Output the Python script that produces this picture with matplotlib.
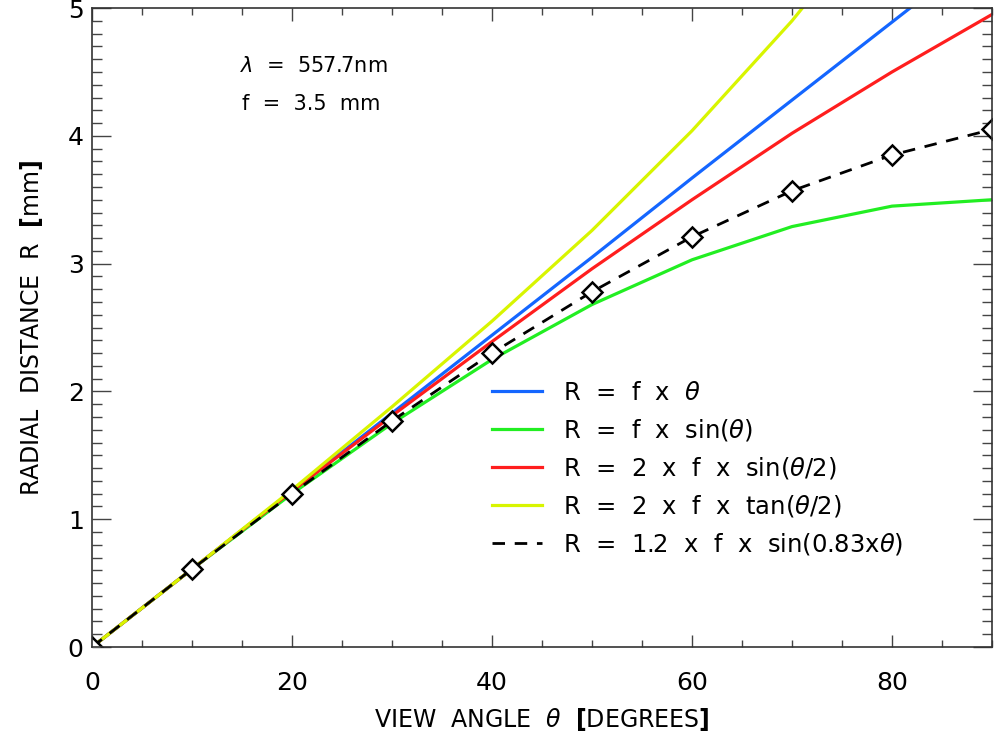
import matplotlib
matplotlib.use("Agg")
import matplotlib.pyplot as plt
from matplotlib.ticker import MultipleLocator

plt.rcParams['font.family'] = ['DejaVu Sans']
plt.rcParams['mathtext.fontset'] = 'dejavusans'

theta = [0, 10, 20, 30, 40, 50, 60, 70, 80, 90]
r_lin = [0, 0.61, 1.22, 1.83, 2.44, 3.05, 3.67, 4.28, 4.89, 5.50]
r_sin = [0, 0.61, 1.20, 1.75, 2.25, 2.68, 3.03, 3.29, 3.45, 3.50]
r_2sin = [0, 0.61, 1.22, 1.81, 2.39, 2.96, 3.50, 4.02, 4.50, 4.95]
r_2tan = [0, 0.61, 1.23, 1.88, 2.55, 3.26, 4.04, 4.90, 5.87, 7.00]
r_fit = [0, 0.61, 1.20, 1.77, 2.30, 2.78, 3.21, 3.57, 3.85, 4.05]

labels = [r"R  =  f  x  $\theta$",
          r"R  =  f  x  sin($\theta$)",
          r"R  =  2  x  f  x  sin($\theta$/2)",
          r"R  =  2  x  f  x  tan($\theta$/2)",
          r"R  =  1.2  x  f  x  sin(0.83x$\theta$)"]
colors = ['#1466ff', '#22ee22', '#ff1e1e', '#d8f500', 'black']

fig = plt.figure(figsize=(9.94, 7.32), dpi=100)
ax = fig.add_axes([0.0926, 0.1161, 0.9054, 0.8729])

lw = 2.3
ax.plot(theta, r_lin, color=colors[0], lw=lw, label=labels[0])
ax.plot(theta, r_sin, color=colors[1], lw=lw, label=labels[1])
ax.plot(theta, r_2sin, color=colors[2], lw=lw, label=labels[2])
ax.plot(theta, r_2tan, color=colors[3], lw=lw, label=labels[3])
ax.plot(theta, r_fit, color='black', lw=2, ls=(0, (4.5, 3.5)), label=labels[4])
ax.plot(theta, r_fit, ls='none', marker='D', ms=10, mfc='white', mec='black', mew=1.8,
        clip_on=True)

ax.set_xlim(0, 90)
ax.set_ylim(0, 5)
ax.xaxis.set_major_locator(MultipleLocator(20))
ax.xaxis.set_minor_locator(MultipleLocator(5))
ax.yaxis.set_major_locator(MultipleLocator(1))
ax.yaxis.set_minor_locator(MultipleLocator(0.1))
ax.tick_params(axis='both', which='both', direction='in', top=True, right=True,
               width=1, color='#444444')
ax.tick_params(axis='x', which='major', length=9, labelsize=18, pad=17)
ax.tick_params(axis='x', which='minor', length=5)
ax.tick_params(axis='y', which='major', length=14, labelsize=18, pad=6)
ax.tick_params(axis='y', which='minor', length=7)
for s in ax.spines.values():
    s.set_linewidth(1.2)
    s.set_color('#333333')

ax.set_xlabel(r"VIEW  ANGLE  $\theta$  $\mathbf{[}$DEGREES$\mathbf{]}$", fontsize=17, labelpad=8)
ax.set_ylabel(r"RADIAL  DISTANCE  R  $\mathbf{[}$mm$\mathbf{]}$", fontsize=17, labelpad=16)

ax.text(0.164, 0.910, r"$\lambda$  =  557.7nm", transform=ax.transAxes, fontsize=15,
        va='center', ha='left')
ax.text(0.167, 0.850, "f  =  3.5  mm", transform=ax.transAxes, fontsize=15,
        va='center', ha='left')

leg = ax.legend(loc='upper left', bbox_to_anchor=(0.434, 0.432), frameon=False,
                fontsize=17.5, handlelength=2.05, handletextpad=0.85, labelspacing=0.5,
                borderaxespad=0)

fig.savefig("out.png", dpi=100)
